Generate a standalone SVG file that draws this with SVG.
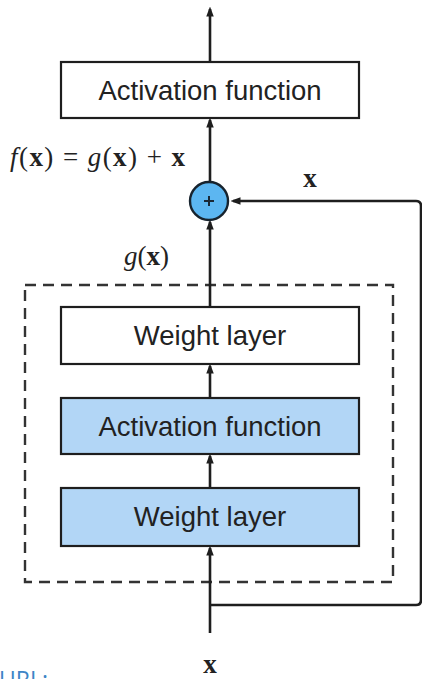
<svg xmlns="http://www.w3.org/2000/svg" width="422" height="679" viewBox="0 0 422 679">
<style>
.box{stroke:#1e1e1e;stroke-width:2.2}
.white{fill:#ffffff}
.blue{fill:#b2d6f6}
.lbl{font-family:"Liberation Sans",Arial,sans-serif;font-size:27.5px;fill:#222;text-anchor:middle}
.math{font-family:"Liberation Serif","Times New Roman",serif;font-size:27px;fill:#222}
.ln{stroke:#1e1e1e;stroke-width:2.6;fill:none}
.it{font-style:italic}
.bd{font-weight:bold}
</style>
<defs>
<marker id="ah" markerWidth="10" markerHeight="12" refX="9" refY="4.5" orient="auto" markerUnits="userSpaceOnUse" viewBox="0 0 12 9">
<path d="M0,0 L12,4.5 L0,9 Z" fill="#1e1e1e"/>
</marker>
</defs>
<rect width="422" height="679" fill="#ffffff"/>
<g id="group-box">
<rect x="25" y="285" width="368" height="297" fill="none" stroke="#333" stroke-width="2.4" stroke-dasharray="11,7"/>
</g>
<g id="connectors">
<line class="ln" x1="210" y1="62" x2="210" y2="9" marker-end="url(#ah)"/>
<line class="ln" x1="210" y1="181" x2="210" y2="120" marker-end="url(#ah)"/>
<line class="ln" x1="210" y1="307" x2="210" y2="222" marker-end="url(#ah)"/>
<line class="ln" x1="210" y1="398" x2="210" y2="366" marker-end="url(#ah)"/>
<line class="ln" x1="210" y1="488" x2="210" y2="456" marker-end="url(#ah)"/>
<line class="ln" x1="210" y1="633" x2="210" y2="548" marker-end="url(#ah)"/>
<path class="ln" d="M210,605 L416,605 Q421,605 421,600 L421,206 Q421,201 416,201 L233,201" marker-end="url(#ah)"/>
</g>
<g id="activation-top">
<rect class="box white" x="61" y="62" width="298" height="56"/>
<text class="lbl" x="210" y="100">Activation function</text>
</g>
<g id="add">
<circle cx="209" cy="201" r="19" fill="#5cb6f1" stroke="#17232e" stroke-width="2.4"/>
<path d="M204,201 H214 M209,196 V206" stroke="#1a2836" stroke-width="2"/>
</g>
<g id="weight-top">
<rect class="box white" x="61" y="307" width="298" height="57"/>
<text class="lbl" x="210" y="345">Weight layer</text>
</g>
<g id="activation-mid">
<rect class="box blue" x="61" y="398" width="298" height="56"/>
<text class="lbl" x="210" y="436">Activation function</text>
</g>
<g id="weight-bottom">
<rect class="box blue" x="61" y="488" width="298" height="58"/>
<text class="lbl" x="210" y="526">Weight layer</text>
</g>
<g id="labels">
<text class="math" x="10" y="166" textLength="175" lengthAdjust="spacing"><tspan class="it">f</tspan>(<tspan class="bd">x</tspan>) = <tspan class="it">g</tspan>(<tspan class="bd">x</tspan>) + <tspan class="bd">x</tspan></text>
<text class="math bd" x="310" y="187" text-anchor="middle">x</text>
<text class="math" x="124" y="265"><tspan class="it">g</tspan>(<tspan class="bd">x</tspan>)</text>
<text class="math bd" x="210" y="673" text-anchor="middle">x</text>
<text x="-1" y="688" font-family="'Open Sans','Liberation Sans',sans-serif" font-size="23" fill="#3d85c6">URL:</text>
</g>
</svg>
